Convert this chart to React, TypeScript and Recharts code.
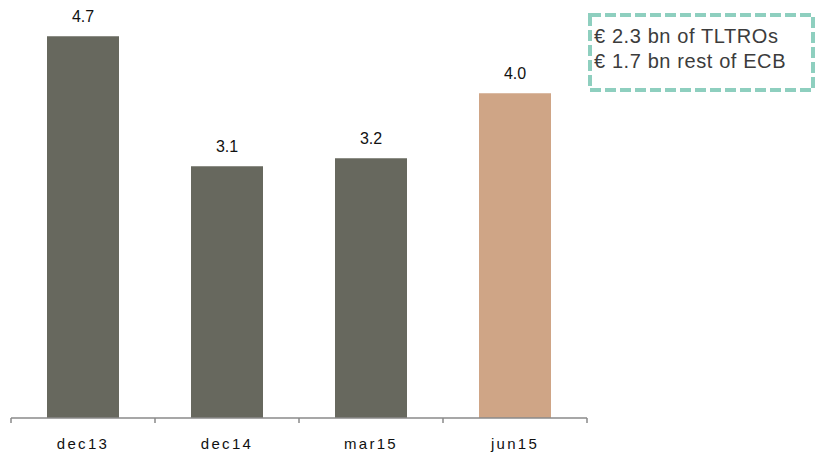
import { Bar, BarChart, Cell, LabelList, XAxis, YAxis } from 'recharts';

const periods = ['dec13', 'dec14', 'mar15', 'jun15'];
const liquidity = [4.7, 3.1, 3.2, 4.0];
// band edges get a tick mark, band centres get the period name
const axisTicks = [0, 0.5, 1, 1.5, 2, 2.5, 3, 3.5, 4];
const noteLines = ['€ 2.3 bn of TLTROs', '€ 1.7 bn rest of ECB'];

const GREY = '#67685e';
const TAN = '#cfa586';
const TEAL = '#8ecfbf';
const AXIS = '#8a8a8a';
const FONT = 'Arial, "Liberation Sans", sans-serif';
const TICK_SIZE = 5;
const TICK_MARGIN = 15;

const data = periods.map((period, i) => ({ period, value: liquidity[i], slot: i + 0.5 }));

function EdgeTick({ x, y, payload }: { x: number; y: number; payload: { value: number } }) {
  const v = payload.value;
  if (Number.isInteger(v)) {
    const top = y - TICK_SIZE - TICK_MARGIN;
    return <line x1={x} x2={x} y1={top} y2={top + TICK_SIZE} stroke={AXIS} strokeWidth={1.5} />;
  }
  return (
    <text
      x={x}
      y={y}
      dy="0.71em"
      textAnchor="middle"
      fontSize={15}
      fill="#111"
      fontFamily={FONT}
      letterSpacing={2.3}
    >
      {periods[Math.floor(v)]}
    </text>
  );
}

export default function App() {
  return (
    <div style={{ position: 'fixed', left: 0, top: 0, width: 818, height: 456, background: '#fff', fontFamily: FONT }}>
      <BarChart
        width={818}
        height={456}
        data={data}
        margin={{ top: 12, right: 231, left: 11, bottom: 0 }}
        barCategoryGap="25%"
      >
        <XAxis dataKey="period" hide height={0} />
        <XAxis
          xAxisId="edges"
          type="number"
          dataKey="slot"
          domain={[0, 4]}
          ticks={axisTicks}
          interval={0}
          height={38}
          tickSize={TICK_SIZE}
          tickMargin={TICK_MARGIN}
          tickLine={false}
          axisLine={{ stroke: AXIS, strokeWidth: 1.5 }}
          tick={EdgeTick}
        />
        <YAxis hide domain={[0, 5]} />
        <Bar dataKey="value" isAnimationActive={false}>
          {data.map((d, i) => (
            <Cell key={d.period} fill={i === data.length - 1 ? TAN : GREY} />
          ))}
          <LabelList
            dataKey="value"
            position="top"
            offset={14}
            formatter={(v: number) => v.toFixed(1)}
            style={{ fontSize: 16, fill: '#111', fontFamily: FONT }}
          />
        </Bar>
      </BarChart>
      <svg
        width={818}
        height={456}
        style={{ position: 'absolute', left: 0, top: 0, pointerEvents: 'none' }}
      >
        <rect
          x={590}
          y={15}
          width={223}
          height={75}
          fill="none"
          stroke={TEAL}
          strokeWidth={4}
          strokeDasharray="11 4"
        />
        {noteLines.map((line, i) => (
          <text
            key={line}
            x={594}
            y={43 + i * 25}
            fontSize={20}
            letterSpacing={0.6}
            fill="#3c3c3c"
            fontFamily={FONT}
          >
            {line}
          </text>
        ))}
      </svg>
    </div>
  );
}
